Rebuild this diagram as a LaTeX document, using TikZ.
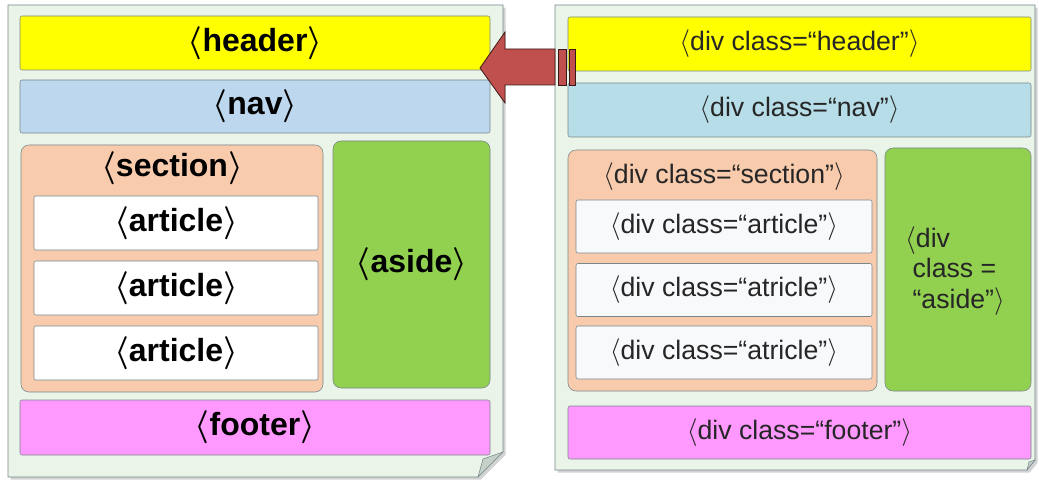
\documentclass[tikz,border=0pt]{standalone}
\usepackage{amsmath}
\usepackage{fontspec}
\setmainfont{Liberation Sans}
\usetikzlibrary{shadows}

\definecolor{pagebg}{RGB}{234,244,232}
\definecolor{pageline}{RGB}{120,135,140}
\definecolor{foldbg}{RGB}{196,208,200}
\definecolor{hdrcol}{RGB}{255,255,0}
\definecolor{navcolL}{RGB}{189,215,238}
\definecolor{navcolR}{RGB}{183,222,232}
\definecolor{seccol}{RGB}{248,203,173}
\definecolor{asidecol}{RGB}{146,208,80}
\definecolor{ftrcol}{RGB}{255,153,255}
\definecolor{artcolR}{RGB}{248,249,251}
\definecolor{arrowcol}{RGB}{192,80,77}

\newcommand{\tagL}[1]{{\mathversion{bold}$\boldsymbol{\langle}$}#1{\mathversion{bold}$\boldsymbol{\rangle}$}}
\newcommand{\tagR}[1]{$\langle$#1$\rangle$}

\begin{document}
\begin{tikzpicture}[x=0.75pt,y=-0.75pt,
                    box/.style={draw=pageline,rounded corners=1.5pt,inner sep=0pt},
                    bigbox/.style={box,rounded corners=6pt},
                    left text/.style={font=\fontsize{24}{28}\selectfont\bfseries},
                    right text/.style={font=\fontsize{20}{23}\selectfont,text=black!85}]
  \useasboundingbox (0,0) rectangle (1039,481);

  % left page
  \fill[pagebg,draw=pageline,drop shadow={shadow xshift=2pt,shadow yshift=-2pt,opacity=0.35}]
    (8,5) -- (503,5) -- (503,452) -- (478,477) -- (8,477) -- cycle;
  \fill[foldbg,draw=pageline] (503,452) -- (483,459) -- (478,477) -- cycle;

  \node[box,fill=hdrcol,minimum width=352.5pt,minimum height=40.5pt,left text] (hdrL) at (255,43) {\tagL{header}};
  \node[box,fill=navcolL,minimum width=352.5pt,minimum height=39.75pt,left text] (navL) at (255,106.5) {\tagL{nav}};
  \node[bigbox,fill=seccol,minimum width=226.5pt,minimum height=185.25pt] (secL) at (172,268.5) {};
  \node[left text] (secLtxt) at (172,168) {\tagL{section}};
  \node[box,fill=white,minimum width=213pt,minimum height=40.5pt,left text] (artL1) at (176,223) {\tagL{article}};
  \node[box,fill=white,minimum width=213pt,minimum height=40.5pt,left text] (artL2) at (176,288) {\tagL{article}};
  \node[box,fill=white,minimum width=213pt,minimum height=40.5pt,left text] (artL3) at (176,353) {\tagL{article}};
  \node[bigbox,fill=asidecol,minimum width=117.75pt,minimum height=185.25pt,left text] (asideL) at (411.5,264.5) {\tagL{aside}};
  \node[box,fill=ftrcol,minimum width=352.5pt,minimum height=41.25pt,left text] (ftrL) at (255,427.5) {\tagL{footer}};

  % right page
  \fill[pagebg,draw=pageline,drop shadow={shadow xshift=2pt,shadow yshift=-2pt,opacity=0.35}]
    (555,5) -- (1035,5) -- (1035,460) -- (1027,470) -- (555,470) -- cycle;
  \fill[foldbg,draw=pageline] (1035,460) -- (1029,462) -- (1027,470) -- cycle;

  \node[box,fill=hdrcol,minimum width=347.25pt,minimum height=40.5pt,right text] (hdrR) at (799.5,44) {\tagR{div class=“header”}};
  \node[box,fill=navcolR,minimum width=347.25pt,minimum height=40.5pt,right text] (navR) at (799.5,110) {\tagR{div class=“nav”}};
  \node[bigbox,fill=seccol,minimum width=231.75pt,minimum height=180.75pt] (secR) at (722.5,270.5) {};
  \node[right text] (secRtxt) at (724,177) {\tagR{div class=“section”}};
  \node[box,fill=artcolR,minimum width=222pt,minimum height=39.75pt,right text] (artR1) at (724,226.5) {\tagR{div class=“article”}};
  \node[box,fill=artcolR,minimum width=222pt,minimum height=39.75pt,right text] (artR2) at (724,290) {\tagR{div class=“atricle”}};
  \node[box,fill=artcolR,minimum width=222pt,minimum height=39.75pt,right text] (artR3) at (724,352.5) {\tagR{div class=“atricle”}};
  \node[bigbox,fill=asidecol,minimum width=109.5pt,minimum height=182.25pt] (asideR) at (958,269.5) {};
  \node[right text,align=left] (asideRtxt) at (955,271) {$\langle$div\\ \ class =\\ \ “aside”$\rangle$};
  \node[box,fill=ftrcol,minimum width=347.25pt,minimum height=39.75pt,right text] (ftrR) at (799.5,432.5) {\tagR{div class=“footer”}};

  % striped block arrow from right header to left header
  \filldraw[fill=arrowcol,draw=black!70!arrowcol,line width=0.6pt]
    (480,68) -- (505,32) -- (505,49) -- (555,49) -- (555,85) -- (505,85) -- (505,103) -- cycle;
  \filldraw[fill=arrowcol,draw=black!70!arrowcol,line width=0.6pt] (558,49) rectangle (566,85);
  \filldraw[fill=arrowcol,draw=black!70!arrowcol,line width=0.6pt] (569,49) rectangle (575,85);
\end{tikzpicture}
\end{document}
